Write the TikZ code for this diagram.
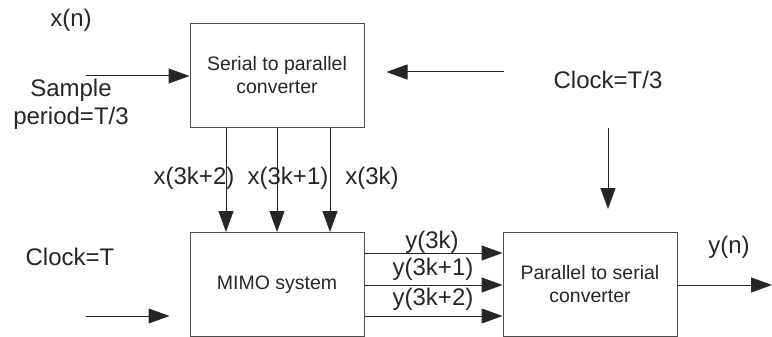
\documentclass[tikz,border=0pt]{standalone}
\usepackage{fontspec}
\setmainfont{Liberation Sans}
\usetikzlibrary{arrows.meta}

\begin{document}
\begin{tikzpicture}[x=1pt,y=-1pt,
  line width=1pt,
  blockbox/.style={draw=black!70, rectangle, minimum width=174pt, minimum height=104pt,
    align=center, inner sep=0pt, font=\fontsize{19.5}{23}\selectfont, text=black!85},
  lbl/.style={inner sep=0pt, align=center, font=\fontsize{24}{28}\selectfont, text=black!85},
  arr/.style={draw=black!85, -{Triangle[length=21pt,width=15pt]}},
  plain/.style={draw=black!85}
]
\useasboundingbox (0,0) rectangle (772,337);

% blocks
\node[blockbox] (ser) at (277,75.5) {Serial to parallel\\converter};
\node[blockbox] (mimo) at (277,284.5) {MIMO system};
\node[blockbox] (par) at (590,284.5) {Parallel to serial\\converter};

% free ends of the outer connectors
\coordinate (inS)  at (86,76);
\coordinate (clkA) at (504,72);
\coordinate (clkB) at (608,128);
\coordinate (inM)  at (86,316);
\coordinate (outP) at (772,285);

% labels
\node[lbl] (xn)   at (71,20)  {x(n)};
\node[lbl] (samp) at (71,104) {Sample\\period=T/3};
\node[lbl] (ck3)  at (608,80) {Clock=T/3};
\node[lbl] (ck1)  at (70,257) {Clock=T};
\node[lbl] (x2)   at (194,178) {x(3k+2)};
\node[lbl] (x1)   at (288,178) {x(3k+1)};
\node[lbl] (x0)   at (372,178) {x(3k)};
\node[lbl] (y0)   at (432,242) {y(3k)};
\node[lbl] (y1)   at (433,269) {y(3k+1)};
\node[lbl] (y2)   at (433,299) {y(3k+2)};
\node[lbl] (yn)   at (729,247) {y(n)};

% inputs of the serial-to-parallel converter
\draw[arr] (inS) -- (inS -| ser.west);
\draw[arr, shorten >=22pt] (clkA) -- (clkA -| ser.east);

% parallel branches into the MIMO system
\foreach \px in {226,277,330}
  \draw[arr] (ser.south -| \px,0) -- (mimo.north -| \px,0);

% clock into the MIMO system
\draw[arr, shorten >=20pt] (inM) -- (inM -| mimo.west);

% MIMO outputs into the parallel-to-serial converter
\foreach \py in {253,285,316}
  \draw[arr] (mimo.east |- 0,\py) -- (par.west |- 0,\py);

% clock into the parallel-to-serial converter
\draw[arr, shorten >=23pt] (clkB) -- (clkB |- par.north);

% serial output
\draw[arr] (par.east |- outP) -- (outP);
\end{tikzpicture}
\end{document}
